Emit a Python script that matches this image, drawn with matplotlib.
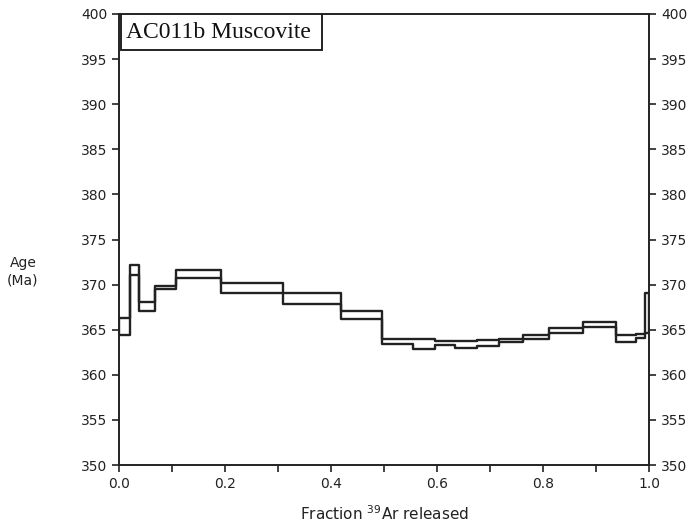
import matplotlib.pyplot as plt
import numpy as np
from matplotlib.ticker import MultipleLocator
from matplotlib.patches import Rectangle

# step boundaries (cumulative fraction 39Ar) and age box limits (Ma)
edges = [0.0, 0.02, 0.038, 0.068, 0.108, 0.192, 0.31, 0.419, 0.496, 0.555,
         0.596, 0.634, 0.675, 0.717, 0.762, 0.811, 0.875, 0.938, 0.975, 0.992, 1.0]
age_hi = [366.3, 372.2, 368.1, 369.8, 371.6, 370.2, 369.1, 367.1, 364.0, 364.0,
          363.7, 363.8, 363.9, 364.0, 364.4, 365.2, 365.8, 364.4, 364.5, 369.1]
age_lo = [364.4, 371.1, 367.1, 369.5, 370.7, 369.1, 367.9, 366.2, 363.4, 362.9,
          363.3, 363.0, 363.2, 363.6, 364.0, 364.6, 365.3, 363.6, 364.1, 364.6]
sample = "AC011b Muscovite"

fig = plt.figure(figsize=(6.92, 5.30), dpi=100)
ax = fig.add_axes([0.172, 0.1226, 0.766, 0.851])

# upper and lower envelopes of the age spectrum as continuous steps
x = np.array(edges)
hi = np.append(age_hi, age_hi[-1])
lo = np.append(age_lo, age_lo[-1])
ax.step(x, hi, where='post', color='#222222', lw=1.7)
ax.step(x, lo, where='post', color='#222222', lw=1.7)
ax.vlines([edges[0], edges[-1]], [age_lo[0], age_lo[-1]], [age_hi[0], age_hi[-1]],
          color='#222222', lw=1.7)

ax.set_xlim(0, 1)
ax.set_ylim(350, 400)
ax.xaxis.set_major_locator(MultipleLocator(0.2))
ax.xaxis.set_minor_locator(MultipleLocator(0.1))
ax.yaxis.set_major_locator(MultipleLocator(5))
ax.xaxis.set_major_formatter(plt.FormatStrFormatter('%.1f'))
ax.tick_params(axis='both', which='both', direction='out', length=5, width=1.2,
               labelsize=10, colors='#222222')
ax.tick_params(axis='y', right=True, labelright=True)
for s in ax.spines.values():
    s.set_linewidth(1.4)
    s.set_color('#222222')

ax.set_xlabel("Fraction $^{39}$Ar released", fontsize=11, color='#222222', labelpad=10)
fig.text(0.033, 0.487, "Age\n(Ma)", fontsize=10, color='#222222', ha='center', va='center',
         linespacing=1.3)

# sample label box hanging from the top axis
ax.add_patch(Rectangle((0.004, 0.92), 0.379, 0.08, transform=ax.transAxes,
                       fill=True, fc='white', ec='#222222', lw=1.4, zorder=3))
ax.text(0.013, 0.958, sample, transform=ax.transAxes, ha='left', va='center',
        family='Liberation Serif', fontsize=17, color='#111111', zorder=4)

fig.savefig("out.png", dpi=100)
